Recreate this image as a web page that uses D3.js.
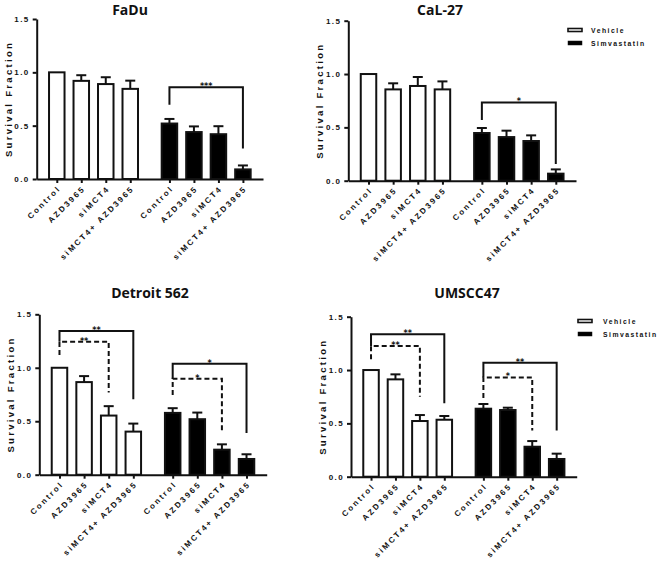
<!DOCTYPE html>
<html><head><meta charset="utf-8">
<script src="https://cdn.jsdelivr.net/npm/d3@7"></script>
<style>
body{margin:0;background:#fff;}
svg{display:block;}
.ax text{font-family:"Liberation Sans",Arial,sans-serif;font-weight:bold;font-size:8px;letter-spacing:1.4px;fill:#111;}
.ax path,.ax line{stroke:#111;stroke-width:2px;}
</style></head>
<body>
<svg id="c" width="660" height="569"></svg>
<script>
// ---------- data ----------
const categories = ["Control", "AZD3965", "siMCT4", "siMCT4+ AZD3965"];
const treatments = ["Vehicle", "Simvastatin"];
const yTicks = [0.0, 0.5, 1.0, 1.5];
const panelTitles = ["FaDu", "CaL-27", "Detroit 562", "UMSCC47"];

const fadu_vehicle = [1.0, 0.92, 0.89, 0.845];
const fadu_vehicle_err = [0, 0.053, 0.064, 0.077];
const fadu_simva = [0.52, 0.44, 0.42, 0.09];
const fadu_simva_err = [0.043, 0.053, 0.075, 0.037];

const cal27_vehicle = [1.0, 0.856, 0.888, 0.856];
const cal27_vehicle_err = [0, 0.057, 0.084, 0.075];
const cal27_simva = [0.447, 0.409, 0.372, 0.066];
const cal27_simva_err = [0.047, 0.06, 0.053, 0.04];

const detroit_vehicle = [1.0, 0.866, 0.553, 0.403];
const detroit_vehicle_err = [0, 0.056, 0.088, 0.075];
const detroit_simva = [0.578, 0.519, 0.234, 0.147];
const detroit_simva_err = [0.044, 0.062, 0.05, 0.044];

const umscc_vehicle = [1.0, 0.9125, 0.522, 0.534];
const umscc_vehicle_err = [0, 0.047, 0.056, 0.035];
const umscc_simva = [0.6375, 0.625, 0.281, 0.166];
const umscc_simva_err = [0.044, 0.022, 0.053, 0.05];

// significance brackets: group (0 vehicle,1 simvastatin), from/to category, bracket y, leg ends, style, label
const fadu_sig = [{g:1, a:0, b:3, y:0.86, ya:0.696, yb:0.286, dashed:false, label:"***"}];
const cal27_sig = [{g:1, a:0, b:3, y:0.734, ya:0.569, yb:0.156, dashed:false, label:"*"}];
const detroit_sig = [
  {g:0, a:0, b:3, y:1.344, ya:1.244, yb:0.706, dashed:false, label:"**"},
  {g:0, a:0, b:2, y:1.244, ya:1.119, yb:0.769, dashed:true, label:"**"},
  {g:1, a:0, b:3, y:1.037, ya:0.897, yb:0.39, dashed:false, label:"*"},
  {g:1, a:0, b:2, y:0.897, ya:0.745, yb:0.40, dashed:true, label:"*"}
];
const umscc_sig = [
  {g:0, a:0, b:3, y:1.335, ya:1.225, yb:0.6875, dashed:false, label:"**"},
  {g:0, a:0, b:2, y:1.225, ya:1.10, yb:0.75, dashed:true, label:"**"},
  {g:1, a:0, b:3, y:1.069, ya:0.931, yb:0.433, dashed:false, label:"**"},
  {g:1, a:0, b:2, y:0.931, ya:0.738, yb:0.433, dashed:true, label:"*"}
];

// ---------- layout ----------
const panels = [
  {title: panelTitles[0], veh: fadu_vehicle, vehE: fadu_vehicle_err, sim: fadu_simva, simE: fadu_simva_err, sig: fadu_sig,
   x0: 36.7, x1: 263, y0: 179, y1: 19, titleX: 130, titleY: 15, legend: null},
  {title: panelTitles[1], veh: cal27_vehicle, vehE: cal27_vehicle_err, sim: cal27_simva, simE: cal27_simva_err, sig: cal27_sig,
   x0: 348.3, x1: 576, y0: 180.7, y1: 20.7, titleX: 440, titleY: 15, legend: {x: 568, y: 30.5, tx: 591}},
  {title: panelTitles[2], veh: detroit_vehicle, vehE: detroit_vehicle_err, sim: detroit_simva, simE: detroit_simva_err, sig: detroit_sig,
   x0: 39.3, x1: 266.7, y0: 474.7, y1: 314.3, titleX: 150, titleY: 298, legend: null},
  {title: panelTitles[3], veh: umscc_vehicle, vehE: umscc_vehicle_err, sim: umscc_simva, simE: umscc_simva_err, sig: umscc_sig,
   x0: 351, x1: 576.7, y0: 476.7, y1: 316.7, titleX: 467, titleY: 298, legend: {x: 578, y: 321.5, tx: 603}}
];

const slot = (g, i) => i + g * 4.6;   // slot position of a bar
const svg = d3.select("#c");
const font = '"Liberation Sans",Arial,sans-serif';

panels.forEach(p => {
  const x = d3.scaleLinear().domain([-0.82, 8.42]).range([p.x0, p.x1]);
  const y = d3.scaleLinear().domain([0, 1.5]).range([p.y0, p.y1]);
  const g = svg.append("g");
  const bw = 15.5, cap = 5;

  // title
  g.append("text").attr("x", p.titleX).attr("y", p.titleY).attr("text-anchor", "middle")
    .attr("font-family", '"Open Sans","Noto Sans",sans-serif').attr("font-weight", "bold")
    .attr("font-size", "14px").attr("fill", "#111").text(p.title);

  // y label
  g.append("text").attr("transform", `translate(${p.x0 - 25},${(p.y0 + p.y1) / 2}) rotate(-90)`)
    .attr("text-anchor", "middle").attr("font-family", font).attr("font-weight", "bold")
    .attr("font-size", "9.5px").style("letter-spacing", "2.3px").attr("fill", "#111").text("Survival Fraction");

  // bars + error bars
  const bars = [];
  [[p.veh, p.vehE], [p.sim, p.simE]].forEach(([vals, errs], gi) => {
    vals.forEach((v, i) => bars.push({gi, i, v, e: errs[i]}));
  });
  const bg = g.append("g");
  bars.forEach(b => {
    const cx = x(slot(b.gi, b.i));
    if (b.e > 0) {
      bg.append("line").attr("x1", cx).attr("x2", cx).attr("y1", y(b.v)).attr("y2", y(b.v + b.e))
        .attr("stroke", "#111").attr("stroke-width", 2);
      bg.append("line").attr("x1", cx - cap).attr("x2", cx + cap).attr("y1", y(b.v + b.e)).attr("y2", y(b.v + b.e))
        .attr("stroke", "#111").attr("stroke-width", 2);
    }
    bg.append("rect").attr("x", cx - bw / 2).attr("y", y(b.v)).attr("width", bw).attr("height", y(0) - y(b.v))
      .attr("fill", b.gi === 0 ? "#fff" : "#000").attr("stroke", "#111").attr("stroke-width", 2);
  });

  // axes
  g.append("g").attr("class", "ax").attr("transform", `translate(${p.x0},0)`)
    .call(d3.axisLeft(y).tickValues(yTicks).tickFormat(d3.format(".1f")).tickSize(4).tickSizeOuter(0).tickPadding(3));
  const positions = [];
  [0, 1].forEach(gi => categories.forEach((c, i) => positions.push(slot(gi, i))));
  const xa = g.append("g").attr("class", "ax").attr("transform", `translate(0,${p.y0})`)
    .call(d3.axisBottom(x).tickValues(positions).tickFormat((d, i) => categories[i % 4]).tickSize(4).tickSizeOuter(0));
  xa.selectAll("text").attr("text-anchor", "end").attr("dy", null).attr("y", null)
    .attr("transform", "translate(4,10) rotate(-45)").style("font-size", "8px").style("letter-spacing", "2.1px");

  // significance brackets
  p.sig.forEach(s => {
    const xa_ = x(slot(s.g, s.a)), xb_ = x(slot(s.g, s.b));
    const path = d3.path();
    path.moveTo(xa_, y(s.ya)); path.lineTo(xa_, y(s.y)); path.lineTo(xb_, y(s.y)); path.lineTo(xb_, y(s.yb));
    g.append("path").attr("d", path.toString()).attr("fill", "none").attr("stroke", "#111")
      .attr("stroke-width", 2).attr("stroke-dasharray", s.dashed ? "5,3" : null);
    g.append("text").attr("x", (xa_ + xb_) / 2).attr("y", y(s.y) + 2).attr("text-anchor", "middle")
      .attr("font-family", '"DejaVu Sans",sans-serif').attr("font-weight", "bold").attr("font-size", "8px").attr("fill", "#111")
      .text(s.label);
  });

  // legend
  if (p.legend) {
    treatments.forEach((t, i) => {
      const ly = p.legend.y + i * 12.5;
      g.append("rect").attr("x", p.legend.x).attr("y", ly - 2).attr("width", 14).attr("height", i === 0 ? 3 : 4)
        .attr("fill", i === 0 ? "#fff" : "#000").attr("stroke", "#111").attr("stroke-width", i === 0 ? 1.6 : 0.5);
      g.append("text").attr("x", p.legend.tx).attr("y", ly + 2.8).attr("font-family", font).attr("font-weight", "bold")
        .attr("font-size", "6.8px").style("letter-spacing", "1.5px").attr("fill", "#111").text(t);
    });
  }
});
</script>
</body></html>
